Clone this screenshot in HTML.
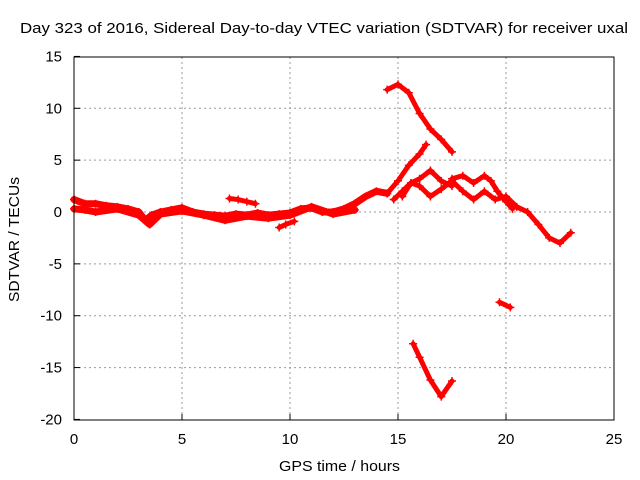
<!DOCTYPE html>
<html><head><meta charset="utf-8"><style>
body{margin:0;background:#fff}
svg{display:block;font-family:"Liberation Sans",sans-serif}
</style></head><body>
<svg id="chart" width="640" height="480">
<rect width="640" height="480" fill="#fff"/>
<text x="20" y="33" font-size="15" textLength="608" lengthAdjust="spacingAndGlyphs">Day 323 of 2016, Sidereal Day-to-day VTEC variation (SDTVAR) for receiver uxal</text>
<text x="279" y="471" font-size="15" textLength="121" lengthAdjust="spacingAndGlyphs">GPS time / hours</text>
<text transform="translate(19,302) rotate(-90)" font-size="15" textLength="125" lengthAdjust="spacingAndGlyphs">SDTVAR / TECUs</text>
<g id="grid"></g><g id="series"></g>
<rect x="74" y="57" width="540" height="363" fill="none" stroke="#000"/>
</svg>
<script>
const xTicks=[0,5,10,15,20,25];
const yTicks=[15,10,5,0,-5,-10,-15,-20];
const seriesA_x=[0,0.5,1,1.5,2,2.5,3,3.3,3.6,4,4.5,5,5.5,6,6.5,7,7.5,8,8.5,9,9.5,10,10.5,11,11.5,12,12.5,13,13.5,14,14.5];
const seriesA_y=[1.2,0.8,0.8,0.6,0.5,0.3,0,-0.8,-0.3,0,0.2,0.4,0,-0.2,-0.3,-0.4,-0.2,-0.3,-0.1,-0.3,-0.2,-0.1,0.3,0.4,0,0,0.3,0.8,1.5,2,1.8];
const seriesB_x=[0,0.5,1,2,3,3.5,4,5,6,7,8,9,10,11,12,13];
const seriesB_y=[0.3,0.2,0,0.3,-0.3,-1.2,-0.2,0.1,-0.3,-0.8,-0.4,-0.6,-0.3,0.5,-0.2,0.2];
const seriesC_x=[7.2,7.6,8,8.4];const seriesC_y=[1.3,1.2,1.0,0.8];
const seriesD_x=[9.5,9.8,10.2];const seriesD_y=[-1.5,-1.2,-0.9];
const seriesE_x=[14.5,15,15.5,16,16.3];const seriesE_y=[1.8,3,4.5,5.6,6.5];
const seriesF_x=[14.8,15.2,15.6,16,16.5,17,17.5];const seriesF_y=[1.2,2,2.8,3.2,4,3,2.5];
const seriesG_x=[15.2,15.6,16,16.5,17,17.5,18,18.5,19,19.5,20,20.5,21,21.5,22,22.5,23];
const seriesG_y=[1.5,2.8,2.5,1.5,2.2,3,2,1.2,2,1.2,1.5,0.5,0,-1.2,-2.5,-3,-2];
const seriesH_x=[17.5,18,18.5,19,19.3,19.6,20,20.3];const seriesH_y=[3.2,3.5,2.8,3.5,3,2,1,0.3];
const seriesI_x=[14.5,15,15.5,16,16.5,17,17.5];const seriesI_y=[11.8,12.3,11.5,9.5,8,7,5.8];
const seriesJ_x=[15.7,16,16.5,17,17.5];const seriesJ_y=[-12.7,-14,-16.2,-17.8,-16.3];
const seriesK_x=[19.7,20.2];const seriesK_y=[-8.7,-9.2];
const allX=[seriesA_x,seriesB_x,seriesC_x,seriesD_x,seriesE_x,seriesF_x,seriesG_x,seriesH_x,seriesI_x,seriesJ_x,seriesK_x];
const allY=[seriesA_y,seriesB_y,seriesC_y,seriesD_y,seriesE_y,seriesF_y,seriesG_y,seriesH_y,seriesI_y,seriesJ_y,seriesK_y];
const NS='http://www.w3.org/2000/svg';
const X=v=>74+v/25*540, Y=v=>212-v*(363/35);
const grid=document.getElementById('grid'), ser=document.getElementById('series');
function mk(t,a,p){const e=document.createElementNS(NS,t);for(const k in a)e.setAttribute(k,a[k]);p.appendChild(e);return e;}
xTicks.forEach(v=>{
  if(v>0&&v<25){const l=mk('line',{x1:X(v),x2:X(v),y1:57,y2:420,stroke:'#999','stroke-dasharray':'2,3'},grid);
  
  }
  const t=mk('text',{x:X(v),y:444,'text-anchor':'middle','font-size':15},grid);t.textContent=v;
  
  
  mk('line',{x1:X(v),x2:X(v),y1:420,y2:414,stroke:'#000'},grid);
});
yTicks.forEach(v=>{
  if(v<15&&v>-20){const l=mk('line',{x1:74,x2:614,y1:Y(v),y2:Y(v),stroke:'#999','stroke-dasharray':'2,3'},grid);
  
  }
  const t=mk('text',{x:62,y:Y(v)+5,'text-anchor':'end','font-size':15},grid);t.textContent=v;
  
  
  mk('line',{x1:74,x2:80,y1:Y(v),y2:Y(v),stroke:'#000'},grid);
});
allX.forEach((xs,i)=>{
  const ys=allY[i];
  const pts=xs.map((x,j)=>X(x)+','+Y(ys[j])).join(' ');
  const p=mk('polyline',{points:pts,fill:'none',stroke:'#f00','stroke-width':(i<2?7:5),'stroke-linejoin':'round','stroke-linecap':'round'},ser);
  
  
  xs.forEach((x,j)=>{
    const c=mk('path',{d:`M${X(x)-4},${Y(ys[j])}h8M${X(x)},${Y(ys[j])-4}v8`,stroke:'#f00','stroke-width':1.5},ser);
    
    
  });
});
</script>
</body></html>
